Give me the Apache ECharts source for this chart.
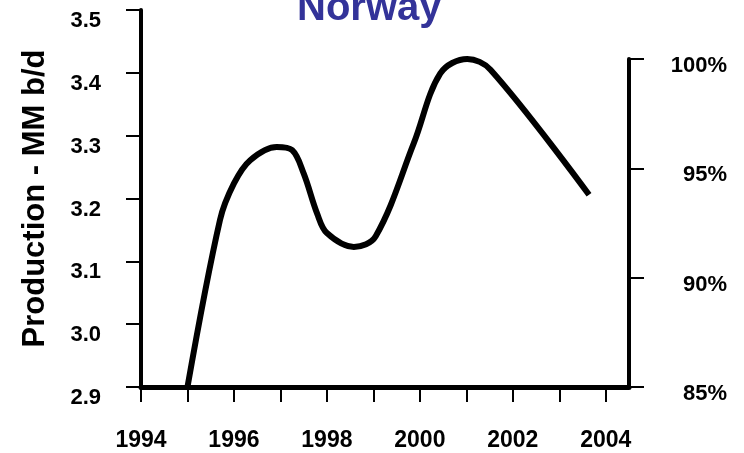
<!DOCTYPE html>
<html>
<head>
<meta charset="utf-8">
<script src="https://cdn.jsdelivr.net/npm/echarts@6/dist/echarts.min.js"></script>
<style>
	html, body { margin: 0; padding: 0; background: #fff; }
	#chart { width: 744px; height: 453px; }
</style>
</head>
<body>
<div id="chart"></div>
<script>
	// production curve (year, MM b/d)
	var years = [1995, 1995.7, 1996, 1996.35, 1996.92, 1997.25, 1997.5, 1997.79, 1998, 1998.58, 1999.05, 1999.87, 2000.44, 2001.02, 2001.52, 2003.64];
	var production = [2.9, 3.166, 3.224, 3.261, 3.282, 3.277, 3.24, 3.176, 3.145, 3.123, 3.14, 3.288, 3.399, 3.422, 3.405, 3.206];
	var tickYears = [1994, 1995, 1996, 1997, 1998, 1999, 2000, 2001, 2002, 2003, 2004];
	var labelYears = [1994, 1996, 1998, 2000, 2002, 2004];

	var font = 'Arial, "Liberation Sans", sans-serif';
	var points = [];
	for (var i = 0; i < years.length; i++) {
		points.push([years[i], production[i]]);
	}

	var option = {
		animation: false,
		title: {
			text: 'Norway',
			left: 292,
			top: -16,
			textStyle: {
				color: '#333399',
				fontSize: 40,
				fontWeight: 'bold',
				fontFamily: font
			}
		},
		grid: [
			{ left: 141, right: 115, top: 10, bottom: 66 },
			{ left: 141, right: 115, top: 59, bottom: 66 } // right % axis is shorter
		],
		xAxis: [{
			type: 'value',
			gridIndex: 0,
			min: 1994,
			max: 2004.5,
			splitLine: { show: false },
			axisLine: { onZero: false, lineStyle: { color: '#000', width: 5 } },
			axisTick: {
				customValues: tickYears,
				length: 15,
				lineStyle: { color: '#000', width: 2 }
			},
			axisLabel: {
				customValues: labelYears,
				margin: 42,
				color: '#000',
				fontSize: 23,
				fontWeight: 'bold',
				fontFamily: font,
				formatter: function (v) { return String(v); }
			}
		}, {
			type: 'value',
			gridIndex: 1,
			min: 0,
			max: 1,
			show: false
		}],
		yAxis: [{
			type: 'value',
			gridIndex: 0,
			min: 2.9,
			max: 3.5,
			interval: 0.1,
			name: 'Production - MM b/d',
			nameLocation: 'middle',
			nameRotate: 90,
			nameGap: 90,
			nameTextStyle: {
				color: '#000',
				fontSize: 31,
				fontWeight: 'bold',
				fontFamily: font
			},
			splitLine: { show: false },
			axisLine: { show: true, onZero: false, lineStyle: { color: '#000', width: 4 } },
			axisTick: { show: true, length: 15, lineStyle: { color: '#000', width: 2 } },
			axisLabel: {
				margin: 40,
				verticalAlign: 'top',
				color: '#000',
				fontSize: 22,
				fontWeight: 'bold',
				fontFamily: font,
				formatter: function (v) { return v.toFixed(1); }
			}
		}, {
			type: 'value',
			gridIndex: 1,
			position: 'right',
			min: 85,
			max: 100,
			interval: 5,
			splitLine: { show: false },
			axisLine: { show: true, onZero: false, lineStyle: { color: '#000', width: 4 } },
			axisTick: { show: true, length: 15, lineStyle: { color: '#000', width: 2 } },
			axisLabel: {
				margin: 98,
				align: 'right',
				verticalAlign: 'top',
				padding: [-4, 0, 0, 0],
				color: '#000',
				fontSize: 22,
				fontWeight: 'bold',
				fontFamily: font,
				formatter: '{value}%'
			}
		}],
		series: [{
			type: 'line',
			xAxisIndex: 0,
			yAxisIndex: 0,
			data: points,
			smooth: 0.35,
			symbol: 'none',
			lineStyle: { color: '#000', width: 6, cap: 'butt' }
		}]
	};

	var myChart = echarts.init(document.getElementById('chart'));
	myChart.setOption(option);
</script>
</body>
</html>
